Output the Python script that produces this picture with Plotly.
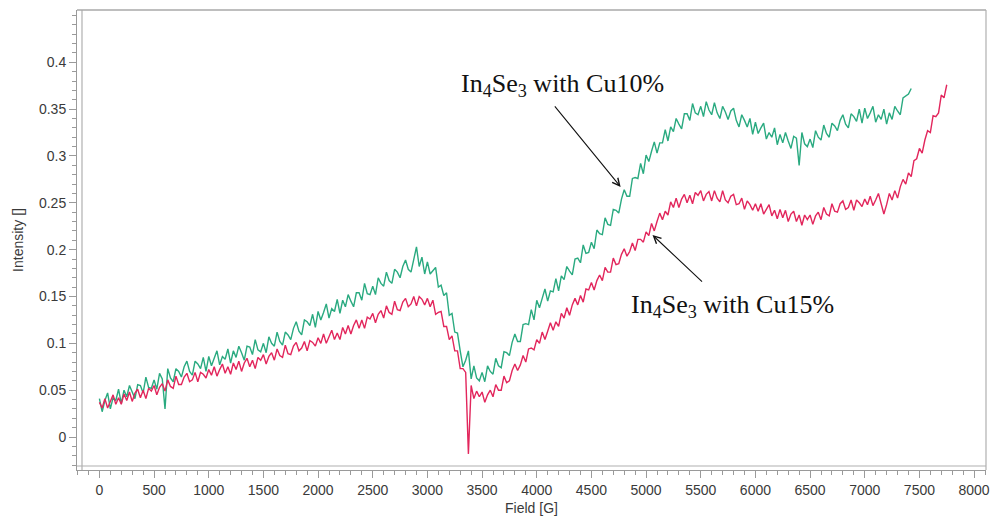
import plotly.graph_objects as go

# ---------------- data ----------------
field_step = 25
green_field = list(range(0, 7426, field_step))   # In4Se3 with Cu10%
red_field = list(range(0, 7751, field_step))     # In4Se3 with Cu15%

# intensities in thousandths, read point by point (noise included)
green_milli = [
    41, 27, 39, 47, 30, 42, 39, 51, 36, 50,
    43, 55, 48, 41, 56, 55, 47, 64, 53, 52,
    61, 51, 68, 62, 30, 73, 63, 59, 73, 70,
    64, 75, 81, 70, 66, 81, 78, 73, 85, 70,
    86, 76, 84, 92, 77, 86, 83, 94, 79, 92,
    85, 97, 90, 82, 97, 96, 88, 104, 93, 91,
    100, 90, 107, 100, 97, 112, 102, 98, 112, 109,
    104, 116, 123, 113, 109, 125, 123, 119, 131, 117,
    134, 125, 133, 142, 127, 137, 134, 147, 132, 146,
    139, 152, 145, 139, 154, 154, 146, 164, 153, 152,
    161, 152, 170, 164, 161, 176, 167, 164, 179, 176,
    170, 182, 189, 179, 176, 191, 203, 182, 192, 174,
    187, 174, 178, 181, 160, 162, 151, 154, 130, 132,
    112, 111, 92, 75, 82, 92, 62, 76, 63, 60,
    69, 59, 76, 70, 67, 84, 76, 74, 91, 90,
    87, 101, 110, 102, 102, 120, 121, 120, 136, 125,
    146, 138, 148, 158, 145, 156, 155, 169, 156, 172,
    168, 182, 177, 173, 190, 191, 186, 205, 196, 197,
    208, 201, 221, 217, 216, 234, 227, 226, 243, 242,
    239, 254, 264, 257, 257, 276, 277, 276, 292, 281,
    301, 294, 305, 315, 303, 314, 314, 328, 316, 331,
    326, 340, 334, 329, 345, 345, 338, 356, 346, 344,
    353, 342, 358, 349, 344, 357, 346, 340, 353, 347,
    339, 348, 351, 338, 331, 344, 338, 331, 340, 323,
    336, 324, 330, 335, 318, 325, 320, 330, 312, 323,
    314, 325, 316, 308, 321, 319, 290, 325, 313, 310,
    318, 309, 327, 320, 317, 333, 324, 320, 335, 332,
    327, 338, 344, 334, 330, 345, 342, 337, 350, 335,
    351, 340, 346, 353, 336, 344, 339, 350, 334, 346,
    339, 353, 348, 344, 362, 364, 366, 372,
]

red_milli = [
    37, 31, 41, 31, 38, 45, 35, 42, 35, 46,
    39, 48, 38, 47, 51, 42, 50, 41, 52, 49,
    55, 45, 53, 57, 49, 61, 54, 52, 65, 56,
    56, 64, 68, 59, 61, 69, 59, 69, 67, 63,
    72, 66, 75, 65, 72, 78, 68, 75, 67, 79,
    72, 81, 70, 79, 84, 75, 82, 73, 85, 82,
    88, 78, 86, 90, 82, 94, 87, 85, 98, 89,
    88, 97, 101, 92, 95, 102, 92, 103, 101, 97,
    106, 100, 110, 100, 107, 114, 104, 111, 104, 117,
    110, 119, 110, 119, 125, 116, 125, 116, 128, 126,
    132, 122, 131, 135, 127, 140, 133, 131, 145, 136,
    135, 144, 148, 139, 142, 150, 140, 150, 147, 141,
    148, 139, 146, 131, 133, 134, 118, 118, 104, 108,
    92, 92, 73, 73, 69, -18, 55, 41, 49, 43,
    48, 37, 45, 50, 43, 56, 50, 50, 65, 58,
    60, 71, 78, 71, 77, 87, 80, 94, 95, 93,
    104, 100, 112, 104, 113, 122, 114, 123, 118, 132,
    127, 138, 130, 141, 148, 141, 151, 144, 158, 157,
    165, 157, 167, 173, 167, 181, 176, 176, 191, 184,
    185, 195, 201, 193, 198, 207, 199, 211, 211, 208,
    219, 215, 228, 220, 230, 239, 232, 241, 237, 251,
    245, 255, 245, 254, 259, 250, 258, 249, 261, 258,
    263, 252, 259, 262, 252, 263, 255, 251, 263, 253,
    250, 257, 259, 248, 249, 255, 243, 252, 248, 242,
    249, 241, 249, 238, 243, 248, 236, 242, 233, 243,
    234, 242, 230, 238, 241, 230, 237, 226, 237, 232,
    237, 227, 236, 240, 232, 245, 238, 236, 249, 241,
    240, 249, 252, 243, 245, 253, 242, 253, 250, 246,
    254, 248, 257, 247, 253, 260, 249, 238, 248, 260,
    253, 263, 255, 267, 275, 270, 282, 278, 295, 297,
    308, 303, 317, 327, 325, 343, 342, 346, 365, 362, 376,
]

green_intensity = [v / 1000 for v in green_milli]
red_intensity = [v / 1000 for v in red_milli]

assert len(green_field) == len(green_intensity), (len(green_field), len(green_intensity))
assert len(red_field) == len(red_intensity), (len(red_field), len(red_intensity))

x_tick_values = [0, 500, 1000, 1500, 2000, 2500, 3000, 3500, 4000,
                 4500, 5000, 5500, 6000, 6500, 7000, 7500, 8000]
y_tick_values = [0, 0.05, 0.1, 0.15, 0.2, 0.25, 0.3, 0.35, 0.4]
y_tick_labels = ["0", "0.05", "0.1", "0.15", "0.2", "0.25", "0.3", "0.35", "0.4"]

label_cu10 = "In<sub>4</sub>Se<sub>3</sub> with Cu10%"
label_cu15 = "In<sub>4</sub>Se<sub>3</sub> with Cu15%"

# ---------------- figure ----------------
GREEN = "rgb(42,170,128)"
RED = "rgb(226,38,92)"
AXIS = "#9a9a9a"
FRAME = "#b0b0b0"

fig = go.Figure()
fig.add_trace(go.Scatter(x=green_field, y=green_intensity, mode="lines",
                         line=dict(color=GREEN, width=1.4), name="Cu10%",
                         showlegend=False))
fig.add_trace(go.Scatter(x=red_field, y=red_intensity, mode="lines",
                         line=dict(color=RED, width=1.4), name="Cu15%",
                         showlegend=False))

tick_font = dict(family="Liberation Sans, Arial, sans-serif", size=14, color="#3a3a3a")

fig.update_layout(
    width=997, height=523,
    margin=dict(l=77, r=7, t=10, b=53),
    paper_bgcolor="white", plot_bgcolor="white",
    font=tick_font,
    xaxis=dict(
        range=[-205, 8109], showgrid=False, zeroline=False,
        showline=True, linecolor=AXIS, linewidth=1,
        ticks="outside", ticklen=7, tickcolor=AXIS, tickwidth=1,
        tickvals=x_tick_values, tickfont=tick_font,
        minor=dict(dtick=100, ticks="outside", ticklen=4, tickcolor=AXIS),
        title=dict(text="Field [G]", font=tick_font, standoff=6),
    ),
    yaxis=dict(
        range=[-0.0352, 0.4558], showgrid=False, zeroline=False,
        showline=True, linecolor=AXIS, linewidth=1,
        ticks="outside", ticklen=7, tickcolor=AXIS, tickwidth=1,
        tickvals=y_tick_values, ticktext=y_tick_labels, tickfont=tick_font,
        minor=dict(dtick=0.01, ticks="outside", ticklen=4, tickcolor=AXIS),
        title=dict(text="Intensity []", font=tick_font, standoff=12),
    ),
)

# inner frame of the plot, slightly inset from the tick axes
fig.add_shape(type="line", xref="paper", yref="paper", xsizemode="pixel", xanchor=0,
              x0=5, x1=5, y0=0, y1=1, line=dict(color=FRAME, width=1.2))
fig.add_shape(type="line", xref="paper", yref="paper", ysizemode="pixel", yanchor=0,
              y0=4, y1=4, x0=0, x1=1, line=dict(color=FRAME, width=1.2))
fig.add_shape(type="line", xref="paper", yref="paper", x0=0, x1=1, y0=1, y1=1,
              line=dict(color="#a8a8a8", width=1.5))
fig.add_shape(type="line", xref="paper", yref="paper", x0=1, x1=1, y0=0, y1=1,
              line=dict(color=FRAME, width=1.2))

serif = dict(family="Liberation Serif, Times New Roman, serif", size=26, color="#111111")

fig.add_annotation(x=4239, y=0.376, xref="x", yref="y", text=label_cu10,
                   showarrow=False, font=serif, xanchor="center", yanchor="middle")
fig.add_annotation(x=5787, y=0.140, xref="x", yref="y", text=label_cu15,
                   showarrow=False, font=serif, xanchor="center", yanchor="middle")

fig.add_annotation(x=4767, y=0.267, xref="x", yref="y", text="", showarrow=True,
                   ax=-67, ay=-82, arrowhead=5, arrowsize=1.3, arrowwidth=1.1,
                   arrowcolor="#111111")
fig.add_annotation(x=5059, y=0.2156, xref="x", yref="y", text="", showarrow=True,
                   ax=51, ay=48, arrowhead=5, arrowsize=1.3, arrowwidth=1.1,
                   arrowcolor="#111111")

fig.write_html("out.html")
